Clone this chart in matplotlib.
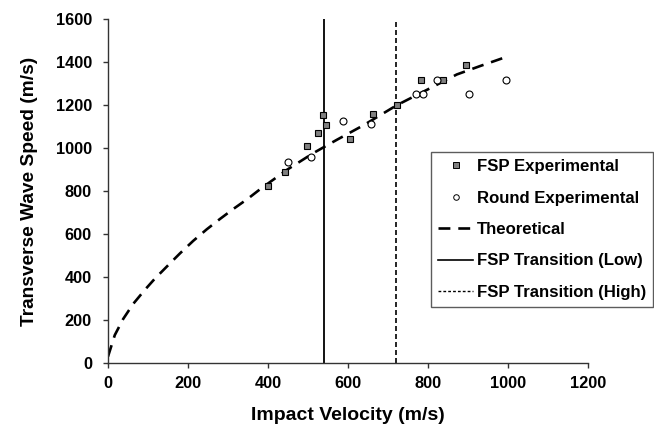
import matplotlib
matplotlib.use("Agg")
import matplotlib.pyplot as plt
from matplotlib.lines import Line2D

plt.rcParams['font.family'] = ['Liberation Sans', 'DejaVu Sans']
plt.rcParams['font.weight'] = 'bold'

fsp_x = [400, 442, 497, 525, 537, 544, 605, 663, 722, 783, 838, 894]
fsp_y = [822, 890, 1011, 1068, 1154, 1107, 1040, 1159, 1200, 1315, 1315, 1385]

round_x = [449, 507, 587, 657, 770, 788, 823, 902, 995]
round_y = [936, 959, 1126, 1113, 1249, 1249, 1315, 1249, 1315]

theo_x = [0, 17, 38, 63, 92, 117, 151, 180, 213, 247, 280, 313, 351, 380, 447,
          513, 572, 638, 722, 800, 872, 930, 990]
theo_y = [30, 130, 205, 275, 340, 392, 456, 510, 568, 622, 670, 716, 766, 808, 898,
          976, 1038, 1105, 1199, 1273, 1342, 1381, 1420]

transition_low = 540
transition_high = 720

fig = plt.figure(figsize=(6.54, 4.34), dpi=100)
ax = fig.add_axes([108/654, 1-363/434, 480/654, 344/434])

ax.plot(theo_x, theo_y, color='black', lw=1.9, ls=(0, (4.5, 3)), zorder=2)
ax.axvline(transition_low, color='black', lw=1.3, zorder=1)
ax.axvline(transition_high, color='black', lw=1.2, ls=(0, (3, 1.8)), zorder=1)
ax.plot(fsp_x, fsp_y, ls='none', marker='s', ms=5, mfc='#808080', mec='black', mew=0.8, zorder=3)
ax.plot(round_x, round_y, ls='none', marker='o', ms=5, mfc='white', mec='black', mew=0.8, zorder=3)

ax.set_xlim(0, 1200)
ax.set_ylim(0, 1600)
ax.set_xticks(range(0, 1201, 200))
ax.set_yticks(range(0, 1601, 200))
for s in ['top', 'right']:
    ax.spines[s].set_visible(False)
for s in ['left', 'bottom']:
    ax.spines[s].set_linewidth(1.0)
    ax.spines[s].set_color('#333333')
ax.tick_params(direction='out', length=3.6, width=1.0, color='#333333', labelsize=11.8)
ax.tick_params(axis='x', pad=6)
ax.tick_params(axis='y', pad=8)
for lab in ax.get_xticklabels() + ax.get_yticklabels():
    lab.set_fontweight('bold')

ax.set_xlabel('Impact Velocity (m/s)', fontsize=14, fontweight='bold', labelpad=11)
ax.set_ylabel('Transverse Wave Speed (m/s)', fontsize=13.8, fontweight='bold', labelpad=13)

handles = [
    Line2D([], [], ls='none', marker='s', ms=4, mfc='#808080', mec='black', mew=0.7),
    Line2D([], [], ls='none', marker='o', ms=4, mfc='white', mec='black', mew=0.7),
    Line2D([], [], color='black', lw=1.9, ls=(0, (4.5, 3))),
    Line2D([], [], color='black', lw=1.2),
    Line2D([], [], color='black', lw=1.0, ls=(0, (2, 1.5))),
]
labels = ['FSP Experimental', 'Round Experimental', 'Theoretical',
          'FSP Transition (Low)', 'FSP Transition (High)']
leg = fig.legend(handles, labels, loc='upper left',
                 bbox_to_anchor=(431/654, 1-152/434), frameon=True,
                 fancybox=False, edgecolor='#333333',
                 prop={'weight': 'bold', 'size': 12.1},
                 handlelength=2.1, handletextpad=0.2, labelspacing=0.98,
                 borderpad=0.42, borderaxespad=0)
leg.get_frame().set_linewidth(1.0)

fig.savefig('out.png', dpi=100)
